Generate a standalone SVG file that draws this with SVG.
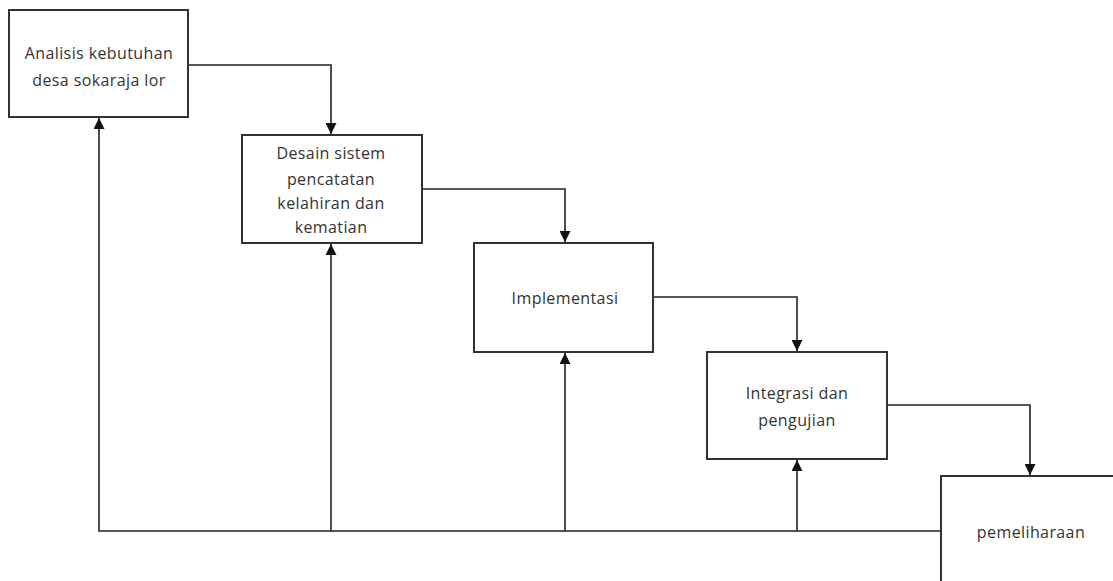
<svg xmlns="http://www.w3.org/2000/svg" width="1113" height="581" viewBox="0 0 1113 581">
<defs>
<marker id="ah" viewBox="0 0 10 10" refX="10" refY="5" markerWidth="11" markerHeight="11" markerUnits="userSpaceOnUse" orient="auto">
<path d="M0,0 L10,5 L0,10 Z" fill="#111"/>
</marker>
</defs>
<style>
.box{fill:#fff;stroke:#333;stroke-width:2}
.t{font-family:"Open Sans","DejaVu Sans",sans-serif;font-size:16px;letter-spacing:0.4px;fill:#333;text-anchor:middle}
.c{fill:none;stroke:#222;stroke-width:1.6}
</style>
<rect width="1113" height="581" fill="#fff"/>
<g id="connectors">
<path class="c" d="M189,65 H331 V134" marker-end="url(#ah)"/>
<path class="c" d="M423,189 H565 V242" marker-end="url(#ah)"/>
<path class="c" d="M654,297 H797 V351" marker-end="url(#ah)"/>
<path class="c" d="M888,405 H1030 V475" marker-end="url(#ah)"/>
<path class="c" d="M941,531 H99 V118" marker-end="url(#ah)" stroke-width="2"/>
<path class="c" d="M331,531 V244" marker-end="url(#ah)"/>
<path class="c" d="M565,531 V353" marker-end="url(#ah)"/>
<path class="c" d="M797,531 V460" marker-end="url(#ah)"/>
</g>
<g id="n1">
<rect class="box" x="9" y="10" width="179" height="107"/>
<text class="t" x="99" y="59">Analisis kebutuhan</text>
<text class="t" x="99" y="86">desa sokaraja lor</text>
</g>
<g id="n2">
<rect class="box" x="242" y="135" width="180" height="108"/>
<text class="t" x="331" y="159">Desain sistem</text>
<text class="t" x="331" y="185">pencatatan</text>
<text class="t" x="331" y="209">kelahiran dan</text>
<text class="t" x="331" y="233">kematian</text>
</g>
<g id="n3">
<rect class="box" x="474" y="243" width="179" height="109"/>
<text class="t" x="565" y="304">Implementasi</text>
</g>
<g id="n4">
<rect class="box" x="707" y="352" width="180" height="107"/>
<text class="t" x="797" y="399">Integrasi dan</text>
<text class="t" x="797" y="426">pengujian</text>
</g>
<g id="n5">
<path class="box" d="M941,590 V476 H1120"/>
<text class="t" x="1031" y="538">pemeliharaan</text>
</g>
</svg>
